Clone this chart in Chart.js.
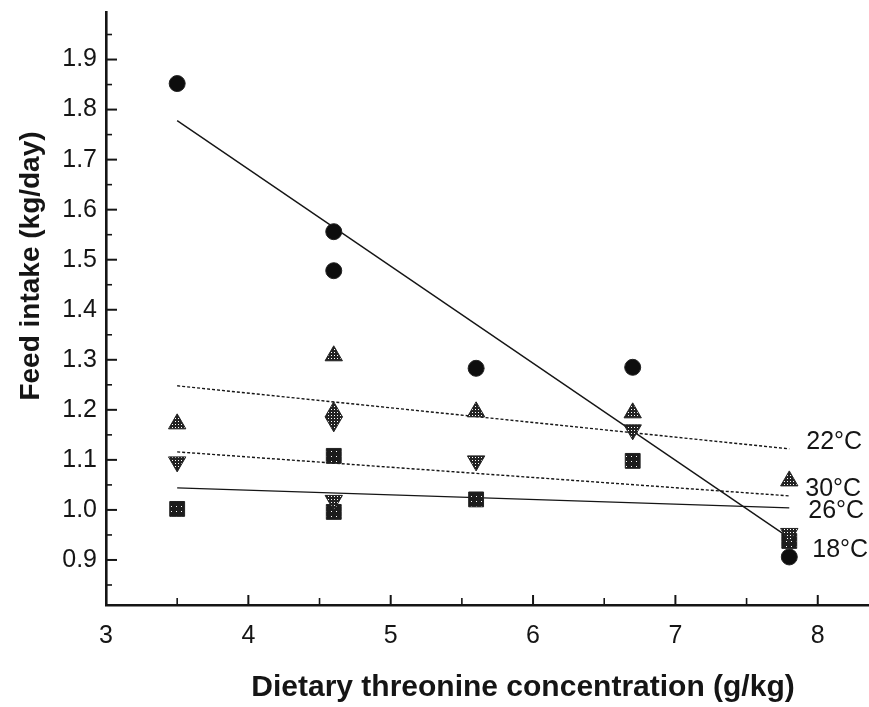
<!DOCTYPE html>
<html>
<head>
<meta charset="utf-8">
<script src="https://cdn.jsdelivr.net/npm/chart.js@4.4.1/dist/chart.umd.min.js"></script>
<style>
  html, body { margin: 0; padding: 0; background: #fff; overflow: hidden; }
  #wrap { width: 869px; height: 707px; }
  #feedChart { display: block; }
</style>
</head>
<body>
<div id="wrap"><canvas id="feedChart"></canvas></div>
<script>
// --- DATA ---
const threonine = [3.5, 4.6, 4.6, 5.6, 6.7, 7.8];
const intake18 = [1.852, 1.556, 1.478, 1.283, 1.285, 0.906];
const intake22 = [1.172, 1.308, 1.196, 1.196, 1.194, 1.058];
const intake26 = [1.002, 1.108, 0.996, 1.021, 1.098, 0.938];
const intake30 = [1.096, 1.176, 1.019, 1.098, 1.160, 0.953];

// fitted lines, evaluated at the ends of the threonine range
const fitX = [3.5, 7.8];
const fit18 = [1.778, 0.944];
const fit22 = [1.248, 1.122];
const fit26 = [1.044, 1.004];
const fit30 = [1.116, 1.028];

const tempLabels = ['22°C', '30°C', '26°C', '18°C'];
const xTicks = [3, 4, 5, 6, 7, 8];
const xMinor = [3.5, 4.5, 5.5, 6.5, 7.5];
const yTicks = [0.9, 1.0, 1.1, 1.2, 1.3, 1.4, 1.5, 1.6, 1.7, 1.8, 1.9];
const yMinor = [0.85, 0.95, 1.05, 1.15, 1.25, 1.35, 1.45, 1.55, 1.65, 1.75, 1.85, 1.95];
const xTitle = 'Dietary threonine concentration (g/kg)';
const yTitle = 'Feed intake (kg/day)';

const INK = '#151515';
const FONT = "'Liberation Sans', Arial, sans-serif";

// halftone fills for the grey-looking markers
const makeDots = (size, bg) => {
    const c = document.createElement('canvas');
    c.width = size; c.height = size;
    const g = c.getContext('2d');
    g.fillStyle = bg;
    g.fillRect(0, 0, size, size);
    g.fillStyle = '#fff';
    g.fillRect(1, 1, 1, 1);
    return g.createPattern(c, 'repeat');
};
const triFill = makeDots(3, '#222');
const sqFill = makeDots(5, '#1c1c1c');

const pts = ys => threonine.map((x, i) => ({ x, y: ys[i] }));
const fit = ys => fitX.map((x, i) => ({ x, y: ys[i] }));

const fitLine = (ys, dash) => ({
    type: 'line',
    data: fit(ys),
    borderColor: INK,
    borderWidth: 1.4,
    borderDash: dash,
    pointRadius: 0,
    fill: false,
    order: 2
});

const markers = (ys, style, radius, fillColor, rotation) => ({
    data: pts(ys),
    showLine: false,
    pointStyle: style,
    pointRadius: radius,
    pointRotation: rotation || 0,
    pointBackgroundColor: fillColor,
    pointBorderColor: '#222',
    pointBorderWidth: 1,
    order: 1
});

// inner tick marks, axis titles and the temperature tags at the line ends
const axisDecor = {
    id: 'axisDecor',
    afterDatasetsDraw(chart) {
        const { ctx, scales: { x, y } } = chart;
        ctx.save();
        ctx.strokeStyle = INK;
        const yLeft = x.getPixelForValue(3);
        const xBase = y.getPixelForValue(y.min);
        ctx.lineWidth = 2;
        yTicks.forEach(v => {
            const py = y.getPixelForValue(v);
            ctx.beginPath(); ctx.moveTo(yLeft, py); ctx.lineTo(yLeft + 11, py); ctx.stroke();
        });
        ctx.lineWidth = 1.6;
        yMinor.forEach(v => {
            const py = y.getPixelForValue(v);
            ctx.beginPath(); ctx.moveTo(yLeft, py); ctx.lineTo(yLeft + 6, py); ctx.stroke();
        });
        ctx.lineWidth = 2;
        xTicks.slice(1).forEach(v => {
            const px = x.getPixelForValue(v);
            ctx.beginPath(); ctx.moveTo(px, xBase); ctx.lineTo(px, xBase - 10); ctx.stroke();
        });
        ctx.lineWidth = 1.6;
        xMinor.forEach(v => {
            const px = x.getPixelForValue(v);
            ctx.beginPath(); ctx.moveTo(px, xBase); ctx.lineTo(px, xBase - 7); ctx.stroke();
        });

        ctx.fillStyle = INK;
        ctx.textBaseline = 'middle';
        ctx.textAlign = 'center';
        ctx.font = "bold 30px " + FONT;
        ctx.fillText(xTitle, 523, 688);
        ctx.save();
        ctx.translate(31, 266);
        ctx.rotate(-Math.PI / 2);
        ctx.font = "bold 28px " + FONT;
        ctx.fillText(yTitle, 0, 0);
        ctx.restore();

        // tags sit just right of the last threonine level
        const ends = [fit22[1], fit30[1], fit26[1], intake18[5]];
        const nudge = [[17, -7], [16, -7], [19, 3], [23, -7]];
        ctx.font = "25px " + FONT;
        ctx.textAlign = 'left';
        tempLabels.forEach((t, i) => {
            const px = x.getPixelForValue(fitX[1]) + nudge[i][0];
            const py = y.getPixelForValue(ends[i]) + nudge[i][1];
            ctx.fillText(t, px, py);
        });
        ctx.restore();
    }
};

new Chart(document.getElementById('feedChart'), {
    type: 'scatter',
    data: {
        datasets: [
            fitLine(fit18, []),
            fitLine(fit22, [3, 2]),
            fitLine(fit30, [3, 2]),
            fitLine(fit26, []),
            markers(intake22, 'triangle', 10, triFill),
            markers(intake30, 'triangle', 10, triFill, 180),
            markers(intake26, 'rect', 10.5, sqFill),
            markers(intake18, 'circle', 8, '#0d0d0d')
        ]
    },
    options: {
        responsive: true,
        maintainAspectRatio: false,
        animation: false,
        layout: { autoPadding: false, padding: { top: 12, right: 0, left: 0, bottom: 0 } },
        plugins: { legend: { display: false }, tooltip: { enabled: false } },
        scales: {
            x: {
                type: 'linear',
                min: 3,
                max: 8.36,
                afterBuildTicks: s => { s.ticks = xTicks.map(v => ({ value: v })); },
                afterFit: s => { s.height = 102; s.paddingLeft = 0; s.paddingRight = 0; },
                grid: { display: false, drawTicks: false },
                border: { display: true, color: INK, width: 2.6 },
                ticks: { padding: 16, color: INK, font: { family: FONT, size: 25 }, maxRotation: 0 }
            },
            y: {
                type: 'linear',
                min: 0.81,
                max: 1.995,
                afterBuildTicks: s => { s.ticks = yTicks.map(v => ({ value: v })); },
                afterFit: s => { s.width = 106; s.paddingTop = 0; s.paddingBottom = 0; },
                grid: { display: false, drawTicks: false },
                border: { display: true, color: INK, width: 2.6 },
                ticks: { padding: 9, color: INK, font: { family: FONT, size: 25 }, callback: v => v.toFixed(1) }
            }
        }
    },
    plugins: [axisDecor]
});
</script>
</body>
</html>
